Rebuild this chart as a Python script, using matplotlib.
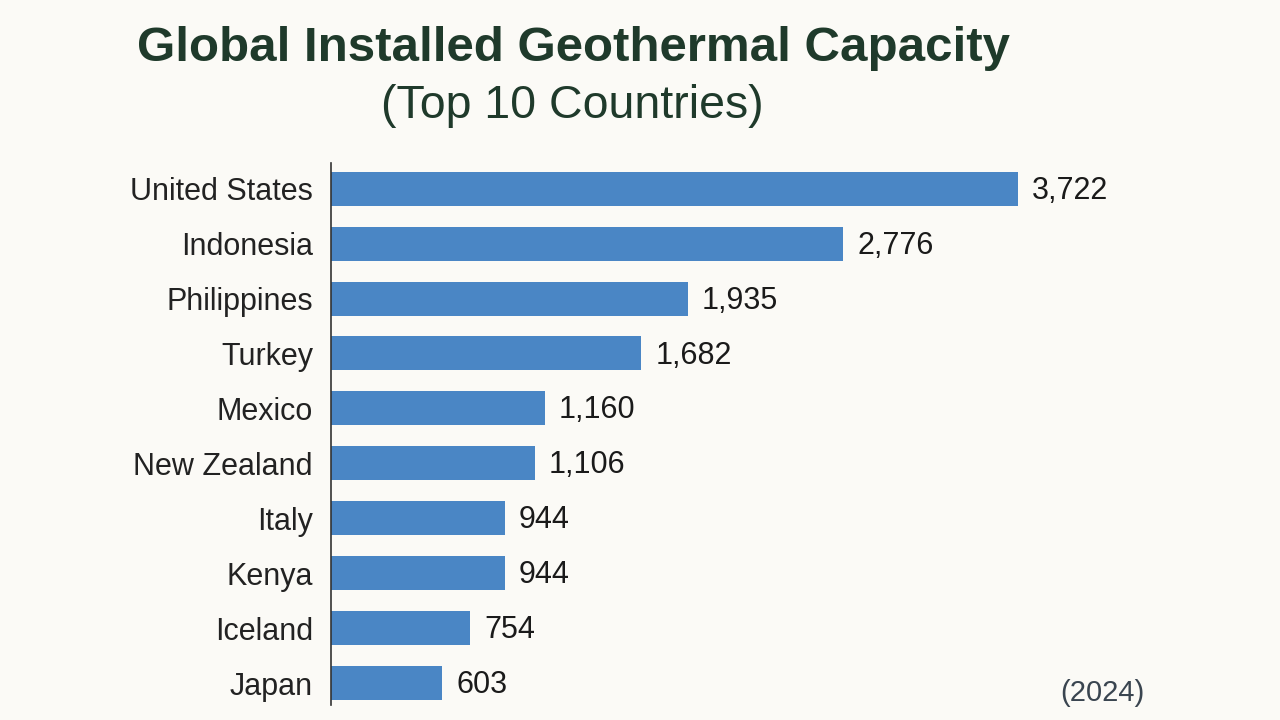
import matplotlib
matplotlib.use('Agg')
import matplotlib.pyplot as plt

# data
countries = ['United States', 'Indonesia', 'Philippines', 'Turkey', 'Mexico',
             'New Zealand', 'Italy', 'Kenya', 'Iceland', 'Japan']
capacity_mw = [3722, 2776, 1935, 1682, 1160, 1106, 944, 944, 754, 603]

bg = '#fbfaf6'
bar_color = '#4a86c5'
title_color = '#1f3a2b'

plt.rcParams['font.family'] = ['Liberation Sans', 'DejaVu Sans']

fig = plt.figure(figsize=(12.8, 7.2), dpi=100, facecolor=bg)
ax = fig.add_axes([0.2586, 0.0208, 0.66, 0.753])
ax.set_facecolor(bg)

y = list(range(len(countries)))
ax.barh(y, capacity_mw, height=0.62, color=bar_color)
ax.set_ylim(9.40, -0.47)
ax.set_xlim(0, 3722 * 845 / 687)

ax.set_yticks(y)
ax.set_yticklabels(countries, fontsize=22, color='#222222')
ax.tick_params(axis='y', length=0, pad=13)
ax.set_xticks([])
for side in ['top', 'right', 'bottom']:
    ax.spines[side].set_visible(False)
ax.spines['left'].set_color('#333333')
ax.spines['left'].set_linewidth(1.2)

# value labels at the bar ends
for yi, v in zip(y, capacity_mw):
    ax.annotate('{:,}'.format(v), (v, yi), xytext=(10, -1.5), textcoords='offset points',
                ha='left', va='center', fontsize=22, color='#1a1a1a')

fig.text(0.448, 0.933, 'Global Installed Geothermal Capacity', ha='center', va='center',
         fontsize=35.5, fontweight='bold', color=title_color)
fig.text(0.447, 0.853, '(Top 10 Countries)', ha='center', va='center',
         fontsize=33.5, color=title_color)
fig.text(0.861, 0.0375, '(2024)', ha='center', va='center', fontsize=21, color='#3a4550')

fig.savefig('out.png', dpi=100, facecolor=bg)
